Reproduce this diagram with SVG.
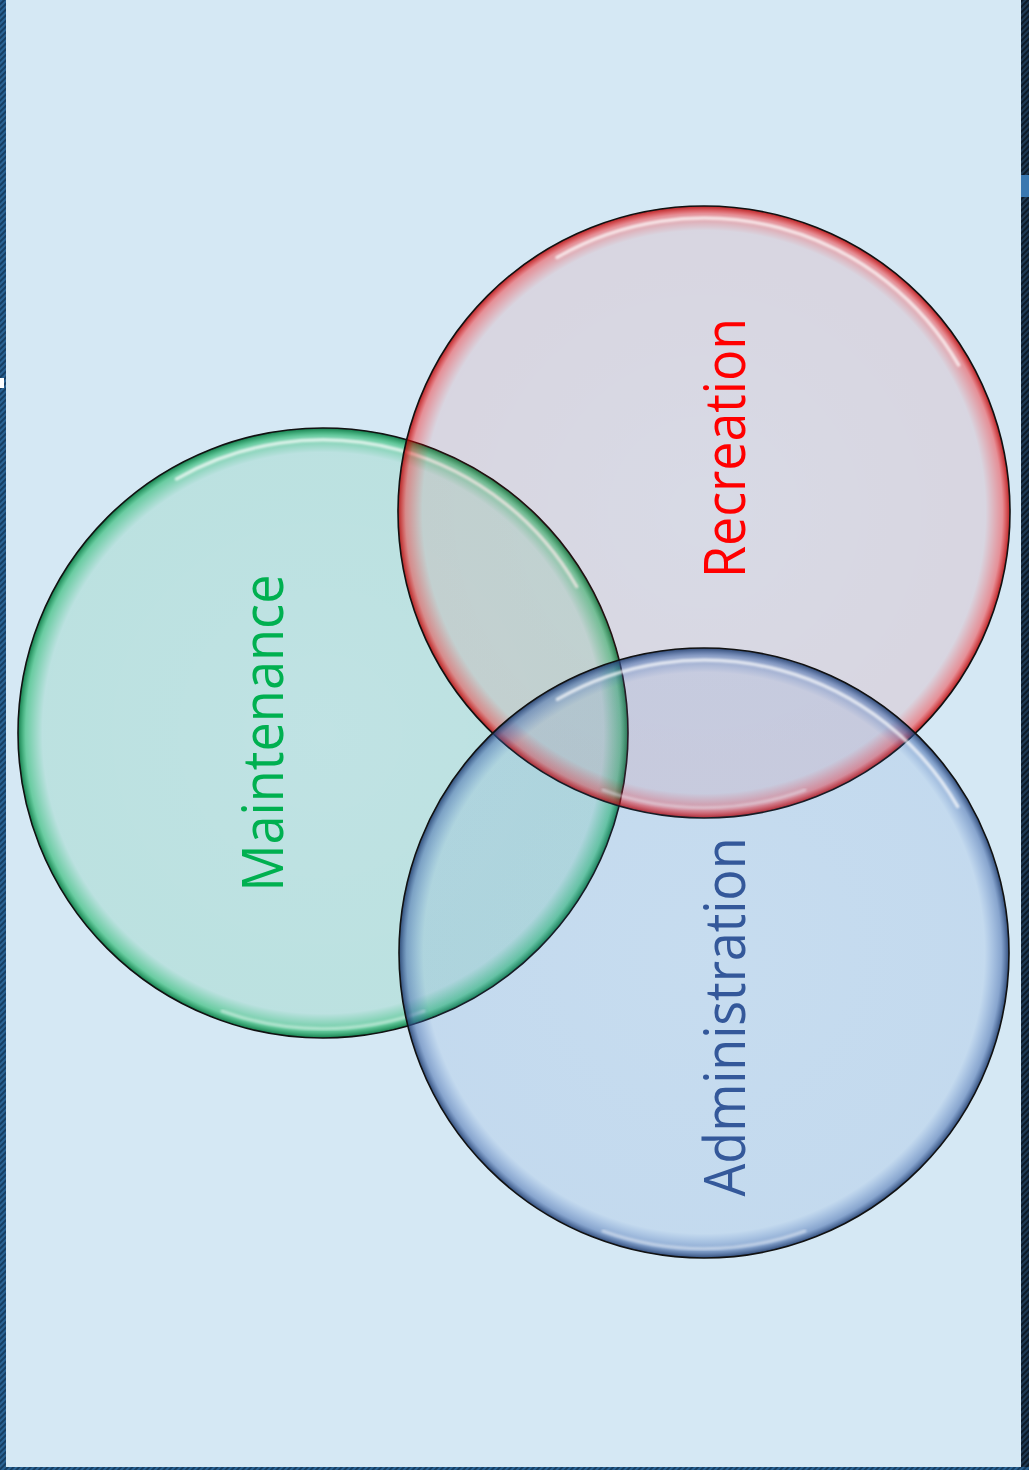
<svg xmlns="http://www.w3.org/2000/svg" width="1029" height="1470" viewBox="0 0 1029 1470">
<defs>
<pattern id="stripe" width="4" height="4" patternUnits="userSpaceOnUse" patternTransform="rotate(45)">
<rect width="4" height="4" fill="#163e62"/>
<rect width="2" height="4" fill="#2a6394"/>
</pattern>
<pattern id="stripeDark" width="4" height="4" patternUnits="userSpaceOnUse" patternTransform="rotate(45)">
<rect width="4" height="4" fill="#0c1a28"/>
<rect width="2" height="4" fill="#1f3a54"/>
</pattern>
<radialGradient id="gG">
<stop offset="0" stop-color="#00b050" stop-opacity="0.1"/>
<stop offset="0.92" stop-color="#00b050" stop-opacity="0.12"/>
<stop offset="0.975" stop-color="#00b050" stop-opacity="0.5"/>
<stop offset="1" stop-color="#00703a" stop-opacity="0.9"/>
</radialGradient>
<radialGradient id="gR">
<stop offset="0" stop-color="#ff0000" stop-opacity="0.06"/>
<stop offset="0.92" stop-color="#ff0000" stop-opacity="0.08"/>
<stop offset="0.975" stop-color="#ff0000" stop-opacity="0.38"/>
<stop offset="1" stop-color="#b00000" stop-opacity="0.85"/>
</radialGradient>
<radialGradient id="gB">
<stop offset="0" stop-color="#4472c4" stop-opacity="0.1"/>
<stop offset="0.92" stop-color="#4472c4" stop-opacity="0.12"/>
<stop offset="0.975" stop-color="#3a62a8" stop-opacity="0.5"/>
<stop offset="1" stop-color="#1e3a6a" stop-opacity="0.9"/>
</radialGradient>
<filter id="soft" x="-10%" y="-10%" width="120%" height="120%"><feGaussianBlur stdDeviation="1.3"/></filter>
</defs>
<style>
.edge{stroke:#111;stroke-width:1.6}
.hl{fill:none;stroke:#ffffff;stroke-width:3.5;stroke-linecap:round;opacity:0.7}
.hlb{fill:none;stroke:#ffffff;stroke-width:3;stroke-linecap:round;opacity:0.45}
.lbl{font-family:"Open Sans","Liberation Sans",sans-serif;font-size:56px;text-anchor:middle}
</style>
<rect width="1029" height="1470" fill="#d5e8f4"/>
<rect x="0" y="0" width="6" height="1470" fill="url(#stripe)"/>
<rect x="0" y="378" width="4" height="10" fill="#ffffff"/>
<rect x="1021" y="0" width="8" height="1470" fill="url(#stripeDark)"/>
<rect x="1021" y="175" width="8" height="22" fill="#3a78b0"/>
<rect x="0" y="1467" width="1029" height="3" fill="url(#stripe)"/>

<g id="maintenance">
<circle cx="323" cy="733" r="305" fill="url(#gG)" class="edge"/>
<path class="hl" filter="url(#soft)" d="M 176.5 479 A 293 293 0 0 1 576.7 586.5"/>
<path class="hlb" filter="url(#soft)" d="M 424 1011 A 296 296 0 0 1 222 1011"/>
<text class="lbl" fill="#00b050" transform="translate(283,733) rotate(-90)" textLength="317" lengthAdjust="spacingAndGlyphs">Maintenance</text>
</g>
<g id="recreation">
<circle cx="704" cy="512" r="306" fill="url(#gR)" class="edge"/>
<path class="hl" filter="url(#soft)" d="M 557 257.4 A 294 294 0 0 1 958.6 365"/>
<path class="hlb" filter="url(#soft)" d="M 805 790 A 296 296 0 0 1 603 790"/>
<text class="lbl" fill="#ff0000" transform="translate(745,448) rotate(-90)" textLength="260" lengthAdjust="spacingAndGlyphs">Recreation</text>
</g>
<g id="administration">
<circle cx="704" cy="953" r="305" fill="url(#gB)" class="edge"/>
<path class="hl" filter="url(#soft)" d="M 557.5 699.3 A 293 293 0 0 1 957.7 806.5"/>
<path class="hlb" filter="url(#soft)" d="M 805 1231 A 296 296 0 0 1 603 1231"/>
<text class="lbl" fill="#34589a" transform="translate(745,1017) rotate(-90)" textLength="359" lengthAdjust="spacingAndGlyphs">Administration</text>
</g>
<g id="connectors"/>
</svg>
